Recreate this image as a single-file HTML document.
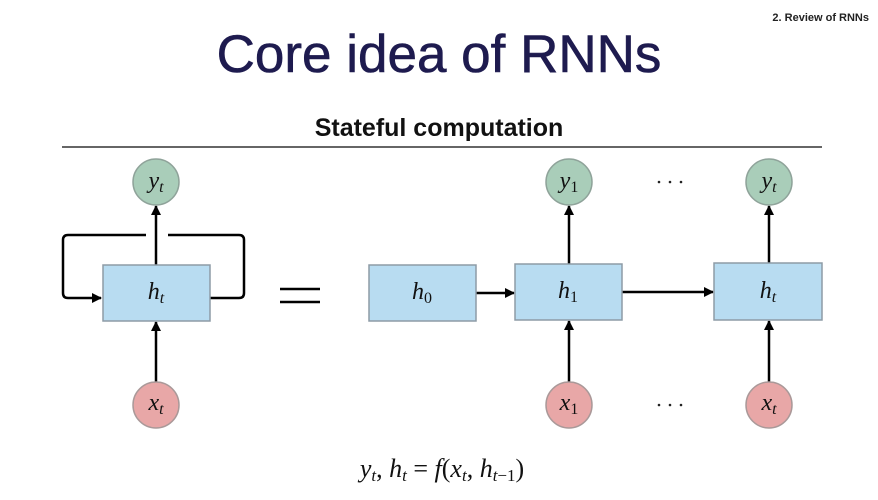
<!DOCTYPE html>
<html><head><style>
body{margin:0;width:878px;height:495px;background:#fff;overflow:hidden;font-family:"Liberation Sans",sans-serif;}
</style></head><body>
<svg width="878" height="495" xmlns="http://www.w3.org/2000/svg">
<defs><marker id="a" markerWidth="10" markerHeight="10" refX="9" refY="5" orient="auto" markerUnits="userSpaceOnUse"><path d="M0,0 L10,5 L0,10 z" fill="#000"/></marker></defs>
<text x="869" y="21" text-anchor="end" font-size="11" font-weight="bold" fill="#222">2. Review of RNNs</text>
<text x="439" y="72" text-anchor="middle" font-size="53" fill="#1e1b4f" stroke="#1e1b4f" stroke-width="0.6">Core idea of RNNs</text>
<text x="439" y="136" text-anchor="middle" font-size="25" font-weight="bold" fill="#111">Stateful computation</text>
<line x1="62" y1="147" x2="822" y2="147" stroke="#333" stroke-width="1.5"/>
<g stroke="#000" stroke-width="2.5" fill="none">
<path d="M146,235 H68 Q63,235 63,240 V293 Q63,298 68,298 H101" marker-end="url(#a)"/>
<path d="M168,235 H239 Q244,235 244,240 V293 Q244,298 239,298 H210"/>
<line x1="156" y1="265" x2="156" y2="206" marker-end="url(#a)"/>
<line x1="156" y1="382" x2="156" y2="322" marker-end="url(#a)"/>
<line x1="476" y1="293" x2="514" y2="293" marker-end="url(#a)"/>
<line x1="622" y1="292" x2="713" y2="292" marker-end="url(#a)"/>
<line x1="569" y1="264" x2="569" y2="206" marker-end="url(#a)"/>
<line x1="569" y1="382" x2="569" y2="321" marker-end="url(#a)"/>
<line x1="769" y1="263" x2="769" y2="206" marker-end="url(#a)"/>
<line x1="769" y1="382" x2="769" y2="321" marker-end="url(#a)"/>
<line x1="280" y1="289" x2="320" y2="289"/>
<line x1="280" y1="302" x2="320" y2="302"/>
</g>
<g fill="#b8dcf1" stroke="#8d9ba6" stroke-width="1.5">
<rect x="103" y="265" width="107" height="56"/>
<rect x="369" y="265" width="107" height="56"/>
<rect x="515" y="264" width="107" height="56"/>
<rect x="714" y="263" width="108" height="57"/>
</g>
<g stroke="#8fa39a" stroke-width="1.5">
<circle cx="156" cy="182" r="23" fill="#a9cdb9"/>
<circle cx="569" cy="182" r="23" fill="#a9cdb9"/>
<circle cx="769" cy="182" r="23" fill="#a9cdb9"/>
<circle cx="156" cy="405" r="23" fill="#e8a7a7" stroke="#a99"/>
<circle cx="569" cy="405" r="23" fill="#e8a7a7" stroke="#a99"/>
<circle cx="769" cy="405" r="23" fill="#e8a7a7" stroke="#a99"/>
</g>
<g font-family="Liberation Serif,serif" font-size="24" fill="#111" text-anchor="middle" font-style="italic">
<text x="156" y="188">y<tspan font-size="16" dy="4">t</tspan></text>
<text x="569" y="188">y<tspan font-size="16" dy="4" font-style="normal">1</tspan></text>
<text x="769" y="188">y<tspan font-size="16" dy="4">t</tspan></text>
<text x="156" y="410">x<tspan font-size="16" dy="4">t</tspan></text>
<text x="569" y="410">x<tspan font-size="16" dy="4" font-style="normal">1</tspan></text>
<text x="769" y="410">x<tspan font-size="16" dy="4">t</tspan></text>
<text x="156" y="299">h<tspan font-size="16" dy="4">t</tspan></text>
<text x="422" y="299">h<tspan font-size="16" dy="4" font-style="normal">0</tspan></text>
<text x="568" y="298">h<tspan font-size="16" dy="4" font-style="normal">1</tspan></text>
<text x="768" y="298">h<tspan font-size="16" dy="4">t</tspan></text>
<text x="442" y="477" font-size="26">y<tspan font-size="17" dy="4">t</tspan><tspan dy="-4" font-style="normal">, </tspan>h<tspan font-size="17" dy="4">t</tspan><tspan dy="-4" font-style="normal"> = </tspan>f<tspan font-style="normal">(</tspan>x<tspan font-size="17" dy="4">t</tspan><tspan dy="-4" font-style="normal">, </tspan>h<tspan font-size="17" dy="4">t<tspan font-style="normal">−1</tspan></tspan><tspan dy="-4" font-style="normal">)</tspan></text>
</g>
<g fill="#222">
<circle cx="659" cy="182" r="1.3"/><circle cx="670" cy="182" r="1.3"/><circle cx="681" cy="182" r="1.3"/>
<circle cx="659" cy="405" r="1.3"/><circle cx="670" cy="405" r="1.3"/><circle cx="681" cy="405" r="1.3"/>
</g>
</svg>
</body></html>
